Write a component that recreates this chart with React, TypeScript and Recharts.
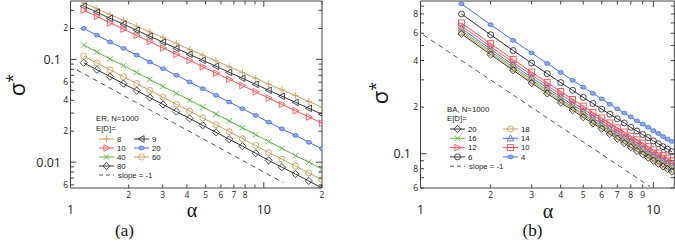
import React from 'react';
import { LineChart, Line, XAxis, YAxis, ReferenceArea } from 'recharts';

const FONT = "'Open Sans', 'Liberation Sans', sans-serif";
const LEG_FONT = "'Liberation Sans', 'DejaVu Sans', sans-serif";
const SERIF = "'Liberation Serif', 'DejaVu Serif', serif";
const AXIS = '#444';
const TAN = '#d09d5c';
const RED = '#ff4f55';
const BLUE = '#4470dc';
const GREEN = '#5cb543';
const BLACK = '#333';

// panel (a): ER, N=1000
const ER_ALPHA = [1.17, 1.37, 1.6, 1.88, 2.2, 2.57, 3.01, 3.53, 4.13, 4.83, 5.66, 6.62, 7.75, 9.08, 10.6, 12.4, 14.6, 17.1, 20];
const ER_8 = [0.354, 0.311, 0.273, 0.24, 0.21, 0.185, 0.163, 0.143, 0.125, 0.11, 0.0966, 0.0849, 0.0745, 0.0655, 0.0574, 0.0505, 0.0444, 0.0389, 0.0342];
const ER_9 = [0.329, 0.288, 0.251, 0.22, 0.192, 0.168, 0.147, 0.128, 0.112, 0.0979, 0.0857, 0.0748, 0.0655, 0.0571, 0.05, 0.0438, 0.0382, 0.0334, 0.0292];
const ER_10 = [0.301, 0.262, 0.227, 0.197, 0.171, 0.149, 0.129, 0.112, 0.0977, 0.0847, 0.0736, 0.064, 0.0556, 0.0483, 0.042, 0.0364, 0.0316, 0.0275, 0.0239];
const ER_20 = [0.2, 0.172, 0.148, 0.128, 0.11, 0.0944, 0.0813, 0.07, 0.0603, 0.0519, 0.0447, 0.0385, 0.0331, 0.0285, 0.0245, 0.0211, 0.0182, 0.0156, 0.0135];
const ER_40 = [0.138, 0.118, 0.101, 0.0869, 0.0745, 0.0638, 0.0546, 0.0468, 0.0401, 0.0344, 0.0294, 0.0252, 0.0216, 0.0185, 0.0159, 0.0136, 0.0116, 0.00998, 0.00855];
const ER_60 = [0.108, 0.0923, 0.0791, 0.0678, 0.0581, 0.0499, 0.0428, 0.0366, 0.0314, 0.0269, 0.0231, 0.0198, 0.0169, 0.0145, 0.0124, 0.0107, 0.00916, 0.00785, 0.00673];
const ER_80 = [0.0927, 0.0793, 0.0679, 0.0581, 0.0497, 0.0425, 0.0364, 0.0311, 0.0266, 0.0228, 0.0195, 0.0167, 0.0143, 0.0122, 0.0104, 0.00893, 0.00764, 0.00655, 0.0056];
const ER_SLOPE_X = [1.08, 12.6];
const ER_SLOPE_Y = [0.0788, 0.00631];
const ER_X_TICKS = [1, 2, 3, 4, 5, 6, 7, 8, 9, 10, 20];
const ER_X_LABELS = ['1', '2', '3', '4', '5', '6', '7', '8', '', '10', '2'];
const ER_Y_TICKS = [0.006, 0.007, 0.008, 0.009, 0.01, 0.02, 0.03, 0.04, 0.05, 0.06, 0.07, 0.08, 0.09, 0.1, 0.2, 0.3];
const ER_Y_LABELS = ['6', '', '', '', '0.01', '2', '', '4', '', '6', '', '', '', '0.1', '2', ''];

// panel (b): BA, N=1000
const BA_ALPHA = [1.5, 2, 2.5, 3, 3.5, 4, 4.5, 5, 5.5, 6, 6.5, 7, 7.5, 8, 8.5, 9, 9.5, 10, 10.5, 11, 11.5, 12];
const BA_4 = [0.93, 0.682, 0.54, 0.448, 0.383, 0.335, 0.298, 0.269, 0.245, 0.226, 0.209, 0.195, 0.183, 0.173, 0.163, 0.155, 0.148, 0.141, 0.135, 0.129, 0.124, 0.12];
const BA_6 = [0.8, 0.587, 0.464, 0.385, 0.329, 0.288, 0.257, 0.231, 0.211, 0.194, 0.18, 0.168, 0.158, 0.148, 0.14, 0.133, 0.127, 0.121, 0.116, 0.111, 0.107, 0.103];
const BA_10 = [0.7, 0.514, 0.406, 0.337, 0.288, 0.252, 0.224, 0.203, 0.185, 0.17, 0.158, 0.147, 0.138, 0.13, 0.123, 0.117, 0.111, 0.106, 0.101, 0.0973, 0.0935, 0.0901];
const BA_12 = [0.67, 0.492, 0.389, 0.323, 0.276, 0.241, 0.215, 0.194, 0.177, 0.163, 0.151, 0.141, 0.132, 0.124, 0.118, 0.112, 0.106, 0.101, 0.097, 0.0931, 0.0895, 0.0862];
const BA_14 = [0.645, 0.473, 0.375, 0.31, 0.266, 0.232, 0.207, 0.187, 0.17, 0.157, 0.145, 0.136, 0.127, 0.12, 0.113, 0.107, 0.102, 0.0977, 0.0934, 0.0897, 0.0862, 0.083];
const BA_16 = [0.625, 0.459, 0.363, 0.301, 0.257, 0.225, 0.2, 0.181, 0.165, 0.152, 0.141, 0.131, 0.123, 0.116, 0.11, 0.104, 0.0991, 0.0946, 0.0905, 0.0869, 0.0835, 0.0804];
const BA_18 = [0.61, 0.448, 0.354, 0.294, 0.251, 0.22, 0.196, 0.177, 0.161, 0.148, 0.137, 0.128, 0.12, 0.113, 0.107, 0.102, 0.0967, 0.0924, 0.0883, 0.0848, 0.0815, 0.0785];
const BA_20 = [0.595, 0.437, 0.346, 0.286, 0.245, 0.214, 0.191, 0.172, 0.157, 0.145, 0.134, 0.125, 0.117, 0.11, 0.104, 0.0991, 0.0944, 0.0901, 0.0862, 0.0827, 0.0795, 0.0766];
const BA_SLOPE_X = [1.03, 9.68];
const BA_SLOPE_Y = [0.585, 0.0612];
const BA_X_TICKS = [1, 2, 3, 4, 5, 6, 7, 8, 9, 10];
const BA_X_LABELS = ['1', '2', '3', '4', '5', '6', '7', '8', '9', '10'];
const BA_Y_TICKS = [0.06, 0.07, 0.08, 0.09, 0.1, 0.2, 0.3, 0.4, 0.5, 0.6, 0.7, 0.8, 0.9];
const BA_Y_LABELS = ['6', '', '8', '', '0.1', '2', '', '4', '', '6', '', '8', ''];

const ER_LEGEND_LEFT = ['8', '10', '40', '80'];
const ER_LEGEND_RIGHT = ['9', '20', '60'];
const BA_LEGEND_LEFT = ['20', '16', '12', '6'];
const BA_LEGEND_RIGHT = ['18', '14', '10', '4'];

type Style = { color: string; shape: string };
const ER_STYLE: Record<string, Style> = {
  '8': { color: TAN, shape: 'plus' },
  '9': { color: BLACK, shape: 'triLeft' },
  '10': { color: RED, shape: 'triRight' },
  '20': { color: BLUE, shape: 'dot' },
  '40': { color: GREEN, shape: 'cross' },
  '60': { color: TAN, shape: 'circle' },
  '80': { color: BLACK, shape: 'diamond' },
};
const BA_STYLE: Record<string, Style> = {
  '4': { color: BLUE, shape: 'dot' },
  '6': { color: BLACK, shape: 'circle' },
  '10': { color: RED, shape: 'square' },
  '12': { color: RED, shape: 'triRight' },
  '14': { color: BLUE, shape: 'triUp' },
  '16': { color: GREEN, shape: 'cross' },
  '18': { color: TAN, shape: 'circle' },
  '20': { color: BLACK, shape: 'diamond' },
};

const zip = (xs: number[], ys: number[]) => xs.map((x, i) => ({ x, y: ys[i] }));

const ER_SERIES: [string, number[]][] = [
  ['8', ER_8], ['9', ER_9], ['10', ER_10], ['20', ER_20], ['40', ER_40], ['60', ER_60], ['80', ER_80],
];
const BA_SERIES: [string, number[]][] = [
  ['4', BA_4], ['6', BA_6], ['10', BA_10], ['12', BA_12], ['14', BA_14], ['16', BA_16], ['18', BA_18], ['20', BA_20],
];

function Marker({ cx, cy, shape, color }: { cx: number; cy: number; shape: string; color: string }) {
  const s = { stroke: color, strokeWidth: 0.9, fill: 'none' };
  switch (shape) {
    case 'plus':
      return <path d={`M${cx - 3} ${cy}H${cx + 3}M${cx} ${cy - 3.5}V${cy + 3.5}`} {...s} />;
    case 'cross':
      return <path d={`M${cx - 2.8} ${cy - 2.8}L${cx + 2.8} ${cy + 2.8}M${cx - 2.8} ${cy + 2.8}L${cx + 2.8} ${cy - 2.8}`} {...s} />;
    case 'circle':
      return <circle cx={cx} cy={cy} r={3} {...s} />;
    case 'dot':
      return <ellipse cx={cx} cy={cy} rx={2.6} ry={1.9} stroke={color} strokeWidth={0.8} fill="#8fa8ee" />;
    case 'diamond':
      return <path d={`M${cx} ${cy - 3.6}L${cx + 3.6} ${cy}L${cx} ${cy + 3.6}L${cx - 3.6} ${cy}Z`} {...s} />;
    case 'square':
      return <rect x={cx - 3} y={cy - 3} width={6} height={6} {...s} />;
    case 'triUp':
      return <path d={`M${cx} ${cy - 3.5}L${cx + 3.3} ${cy + 2.6}L${cx - 3.3} ${cy + 2.6}Z`} {...s} />;
    case 'triLeft':
      return <path d={`M${cx - 3.5} ${cy}L${cx + 2.6} ${cy - 3.3}L${cx + 2.6} ${cy + 3.3}Z`} {...s} />;
    case 'triRight':
      return <path d={`M${cx + 3.5} ${cy}L${cx - 2.6} ${cy - 3.3}L${cx - 2.6} ${cy + 3.3}Z`} {...s} />;
    default:
      return null;
  }
}

function xTick(ticks: number[], labels: string[], top: number) {
  return (p: any) => {
    const v = p.payload.value;
    const lab = labels[ticks.indexOf(v)] || '';
    const major = v === 1 || v === 10;
    const len = major ? 6 : 3.5;
    return (
      <g key={`xt${v}`}>
        <line x1={p.x} x2={p.x} y1={p.y} y2={p.y - len} stroke={AXIS} />
        <line x1={p.x} x2={p.x} y1={top} y2={top + len} stroke={AXIS} />
        {lab && (
          <text x={p.x} y={major ? p.y + 26 : p.y + 10} textAnchor="middle" fontFamily={FONT} fontSize={major ? 12.5 : 8.5} fill="#222">
            {lab}
          </text>
        )}
      </g>
    );
  };
}

function yTick(ticks: number[], labels: string[], right: number) {
  return (p: any) => {
    const v = p.payload.value;
    const lab = labels[ticks.indexOf(v)] || '';
    const major = v === 0.1 || v === 0.01;
    const len = major ? 6 : 3.5;
    return (
      <g key={`yt${v}`}>
        <line x1={p.x} x2={p.x + len} y1={p.y} y2={p.y} stroke={AXIS} />
        <line x1={right} x2={right - len} y1={p.y} y2={p.y} stroke={AXIS} />
        {lab && (
          <text x={major ? p.x - 9.5 : p.x - 2.5} y={p.y + (major ? 4.4 : 3)} textAnchor="end" fontFamily={FONT} fontSize={major ? 12.5 : 8.5} fill="#222">
            {lab}
          </text>
        )}
      </g>
    );
  };
}

function Panel(props: {
  left: number;
  mLeft: number;
  mRight: number;
  xDomain: number[];
  yDomain: number[];
  xTicks: number[];
  xLabels: string[];
  yTicks: number[];
  yLabels: string[];
  alpha: number[];
  series: [string, number[]][];
  styles: Record<string, Style>;
  slopeX: number[];
  slopeY: number[];
}) {
  const W = 340;
  const H = 241;
  const margin = { top: 1, right: props.mRight, bottom: 23, left: props.mLeft };
  return (
    <div style={{ position: 'absolute', left: props.left, top: 0 }}>
      <LineChart width={W} height={H} margin={margin}>
        <XAxis
          dataKey="x"
          type="number"
          scale="log"
          domain={props.xDomain}
          ticks={props.xTicks}
          interval={0}
          allowDataOverflow
          axisLine={false}
          tickLine={false}
          tickSize={0}
          tickMargin={0}
          height={30}
          tick={xTick(props.xTicks, props.xLabels, margin.top)}
        />
        <YAxis
          dataKey="y"
          type="number"
          scale="log"
          domain={props.yDomain}
          ticks={props.yTicks}
          interval={0}
          allowDataOverflow
          axisLine={false}
          tickLine={false}
          tickSize={0}
          tickMargin={0}
          width={40}
          tick={yTick(props.yTicks, props.yLabels, W - margin.right)}
        />
        <Line
          data={zip(props.slopeX, props.slopeY)}
          dataKey="y"
          stroke="#555"
          strokeWidth={1}
          strokeDasharray="5 4"
          dot={false}
          activeDot={false}
          isAnimationActive={false}
        />
        {props.series.map(([name, ys]) => {
          const st = props.styles[name];
          return (
            <Line
              key={name}
              data={zip(props.alpha, ys)}
              dataKey="y"
              stroke={st.color}
              strokeWidth={1}
              activeDot={false}
              isAnimationActive={false}
              dot={(d: any) => <Marker key={`${name}-${d.index}`} cx={d.cx} cy={d.cy} shape={st.shape} color={st.color} />}
            />
          );
        })}
        <ReferenceArea
          x1={props.xDomain[0]}
          x2={props.xDomain[1]}
          y1={props.yDomain[0]}
          y2={props.yDomain[1]}
          fill="none"
          stroke={AXIS}
          strokeWidth={1}
        />
      </LineChart>
    </div>
  );
}

function LegendItem({ x, y, name, style }: { x: number; y: number; name: string; style: Style }) {
  return (
    <g>
      <line x1={x} x2={x + 15} y1={y} y2={y} stroke={style.color} />
      <Marker cx={x + 7.5} cy={y} shape={style.shape} color={style.color} />
      <text x={x + 18} y={y + 2.8} fontFamily={LEG_FONT} fontSize={7.8} fill="#222">
        {name}
      </text>
    </g>
  );
}

function Legend({ x, y, title, left, right, styles, rightX, rows }: any) {
  return (
    <g>
      <text x={x} y={y + 2.8} fontFamily={LEG_FONT} fontSize={7.8} fill="#222">{title}</text>
      <text x={x} y={y + 12.3} fontFamily={LEG_FONT} fontSize={7.8} fill="#222">E[D]=</text>
      {left.map((n: string, i: number) => (
        <LegendItem key={`l${n}`} x={x + 3} y={rows[i]} name={n} style={styles[n]} />
      ))}
      {right.map((n: string, i: number) => (
        <LegendItem key={`r${n}`} x={rightX} y={rows[i]} name={n} style={styles[n]} />
      ))}
      <line x1={x + 3} x2={x + 18} y1={rows[4]} y2={rows[4]} stroke="#555" strokeDasharray="4 3" />
      <text x={x + 22} y={rows[4] + 2.8} fontFamily={LEG_FONT} fontSize={7.8} fill="#222">slope = -1</text>
    </g>
  );
}

export default function App() {
  return (
    <div style={{ position: 'absolute', left: 0, top: 0, width: 675, height: 241, background: '#fff', overflow: 'hidden' }}>
      <Panel
        left={0}
        mLeft={30.5}
        mRight={18}
        xDomain={[1, 20]}
        yDomain={[0.0056, 0.37]}
        xTicks={ER_X_TICKS}
        xLabels={ER_X_LABELS}
        yTicks={ER_Y_TICKS}
        yLabels={ER_Y_LABELS}
        alpha={ER_ALPHA}
        series={ER_SERIES}
        styles={ER_STYLE}
        slopeX={ER_SLOPE_X}
        slopeY={ER_SLOPE_Y}
      />
      <Panel
        left={335}
        mLeft={45.5}
        mRight={0.7}
        xDomain={[1, 12.3]}
        yDomain={[0.06, 0.97]}
        xTicks={BA_X_TICKS}
        xLabels={BA_X_LABELS}
        yTicks={BA_Y_TICKS}
        yLabels={BA_Y_LABELS}
        alpha={BA_ALPHA}
        series={BA_SERIES}
        styles={BA_STYLE}
        slopeX={BA_SLOPE_X}
        slopeY={BA_SLOPE_Y}
      />
      <svg width={675} height={241} style={{ position: 'absolute', left: 0, top: 0, pointerEvents: 'none' }}>
        <g transform="translate(25,85) rotate(-90)">
          <text x={0} y={0} textAnchor="middle" fontFamily={FONT} fontSize={22} fill="#111">
            σ<tspan fontSize={16} dy={-7}>*</tspan>
          </text>
        </g>
        <g transform="translate(388,93) rotate(-90)">
          <text x={0} y={0} textAnchor="middle" fontFamily={FONT} fontSize={22} fill="#111">
            σ<tspan fontSize={16} dy={-7}>*</tspan>
          </text>
        </g>
        <text x={192} y={217} textAnchor="middle" fontFamily={SERIF} fontSize={20} fill="#111">α</text>
        <text x={548} y={218} textAnchor="middle" fontFamily={SERIF} fontSize={20} fill="#111">α</text>
        <text x={124.5} y={236} textAnchor="middle" fontFamily={SERIF} fontSize={17} fill="#111">(a)</text>
        <text x={532.5} y={236} textAnchor="middle" fontFamily={SERIF} fontSize={17} fill="#111">(b)</text>
        <Legend x={96} y={118.5} title="ER, N=1000" left={ER_LEGEND_LEFT} right={ER_LEGEND_RIGHT} styles={ER_STYLE} rightX={134} rows={[139, 148, 157, 166, 175]} />
        <Legend x={447} y={109} title="BA, N=1000" left={BA_LEGEND_LEFT} right={BA_LEGEND_RIGHT} styles={BA_STYLE} rightX={503} rows={[129, 138.3, 147.6, 156.9, 166.2]} />
      </svg>
    </div>
  );
}
